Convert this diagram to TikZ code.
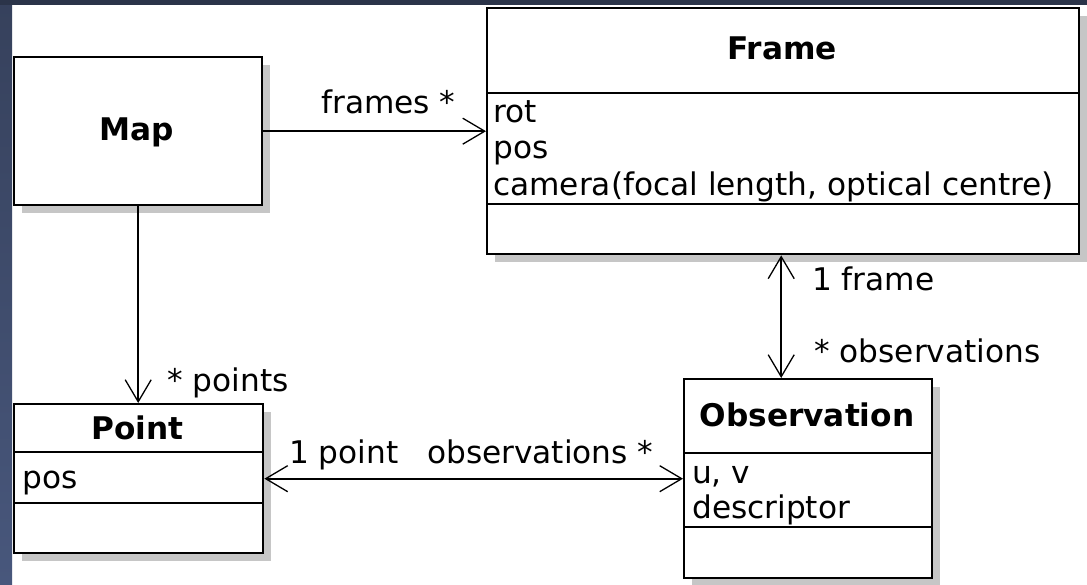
\documentclass[tikz,border=0pt]{standalone}
\usepackage{fontspec}
\setmainfont{DejaVu Sans}
\usetikzlibrary{arrows.meta,shadows}
\definecolor{stripdark}{HTML}{2B3449}
\definecolor{stripup}{HTML}{36415C}
\definecolor{striplow}{HTML}{48577C}
\definecolor{shadowgray}{HTML}{C6C6C6}
\begin{document}
\begin{tikzpicture}[x=1pt,y=-1pt,
  classbox/.style={draw=black, line width=2.4pt, fill=white, rectangle, inner sep=0pt,
    anchor=north west,
    drop shadow={shadow xshift=8pt, shadow yshift=-8pt, fill=shadowgray, opacity=1}},
  compsep/.style={line width=2pt},
  txt/.style={font=\fontsize{31.2}{37}\selectfont, inner sep=0pt, anchor=base west},
  ttl/.style={font=\fontsize{31.2}{37}\selectfont\bfseries, inner sep=0pt, anchor=base},
  assoc/.style={line width=2pt},
  vtip/.tip={Straight Barb[length=22pt, width=26pt, line width=1.3pt]}
]
\useasboundingbox (0,0) rectangle (1087,585);
\fill[white] (0,0) rectangle (1087,585);
\shade[top color=stripup, bottom color=striplow] (0,0) rectangle (12,585);
\fill[stripdark] (0,0) rectangle (1087,5);

% Map
\node[classbox, minimum width=248pt, minimum height=148pt] (map) at (13,56) {};
\node[ttl] (maptitle) at (137,141) {Map};

% Frame
\node[classbox, minimum width=592pt, minimum height=246pt] (frame) at (486,7) {};
\draw[compsep] ([yshift=-86pt]frame.north west) -- ([yshift=-86pt]frame.north east);
\draw[compsep] ([yshift=-197pt]frame.north west) -- ([yshift=-197pt]frame.north east);
\node[ttl] (frametitle) at (782,60) {Frame};
\node[txt] (frot) at (493,123) {rot};
\node[txt] (fpos) at (493,159) {pos};
\node[txt] (fcam) at (493,196) {camera(focal length, optical centre)};

% Point
\node[classbox, minimum width=249pt, minimum height=149pt] (point) at (13,403) {};
\draw[compsep] ([yshift=-49pt]point.north west) -- ([yshift=-49pt]point.north east);
\draw[compsep] ([yshift=-100pt]point.north west) -- ([yshift=-100pt]point.north east);
\node[ttl] (pointtitle) at (137.5,439) {Point};
\node[txt] (ppos) at (22,488) {pos};

% Observation
\node[classbox, minimum width=248pt, minimum height=199pt] (obs) at (683,378) {};
\draw[compsep] ([yshift=-75pt]obs.north west) -- ([yshift=-75pt]obs.north east);
\draw[compsep] ([yshift=-149pt]obs.north west) -- ([yshift=-149pt]obs.north east);
\node[ttl] (obstitle) at (807,426) {Observation};
\node[txt] (ouv) at (692,483) {u, v};
\node[txt] (odesc) at (692,518) {descriptor};

% Connectors
\draw[assoc, -{vtip}] (map.east) -- (map.east -| frame.west);
\draw[assoc, {vtip}-{vtip}] ([xshift=-2pt]frame.south) -- ([xshift=-2pt]frame.south |- obs.north);
\draw[assoc, -{vtip}] (map.south) -- (map.south |- point.north);
\draw[assoc, {vtip}-{vtip}] (point.east) -- (point.east -| obs.west);

% Labels
\node[txt] (lframes) at (321,114) {frames *};
\node[txt] (l1frame) at (812,291) {1 frame};
\node[txt] (lobsv) at (814,362) {* observations};
\node[txt] (lpoints) at (167,391) {* points};
\node[txt] (l1point) at (289,463) {1 point};
\node[txt] (lobsh) at (427,463) {observations *};
\end{tikzpicture}
\end{document}
